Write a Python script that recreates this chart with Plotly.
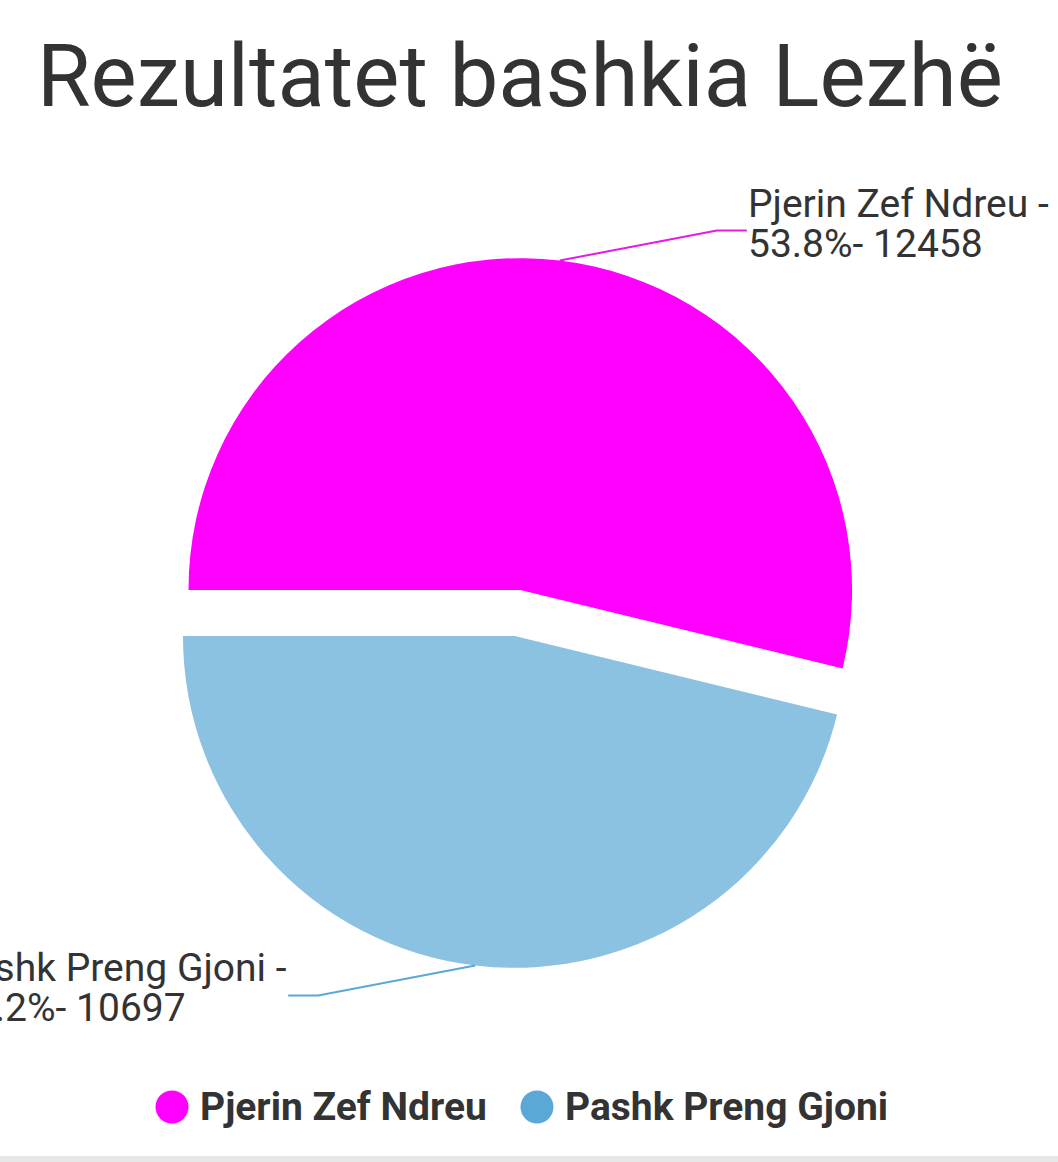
import math
import plotly.graph_objects as go

# ---- data ----
candidates = ["Pjerin Zef Ndreu", "Pashk Preng Gjoni"]
votes = [12458, 10697]
percents = [53.8, 46.2]
slice_colors = ["#FF00FF", "#8BC2E1"]
legend_colors = ["#FF00FF", "#5BA8D6"]
connector_colors = ["#E619E6", "#5BA8D6"]
title_text = "Rezultatet bashkia Lezhë"

# ---- layout constants ----
W, H = 1058, 1162
CX, CY = 517.5, 613.0      # pie domain centre (px, from top-left)
HALF = 355.0               # half side of the pie domain (px)
PULL = 0.07
ROTATION = 270
CONN_DX, CONN_DY, TAIL = 157, 30, 30
FONT = "Roboto"
TXT = "#333333"
LABEL_SIZE = 39
LINE_GAP = 40
LEFT_BLOCK_W = 340         # width of the first label line for left-side labels

def px(x):
    return x / W

def py(y):
    return 1 - y / H

fig = go.Figure()
fig.add_trace(go.Pie(
    labels=candidates, values=votes, sort=False, direction="clockwise",
    rotation=ROTATION, pull=[PULL] * len(votes),
    marker=dict(colors=slice_colors, line=dict(width=0)),
    textinfo="none", hoverinfo="label+value+percent", showlegend=False,
    domain=dict(x=[px(CX - HALF), px(CX + HALF)], y=[py(CY + HALF), py(CY - HALF)]),
))

r = HALF / (1 + PULL)
off = PULL * r
total = sum(votes)
cum = 0.0
shapes = []
annotations = []
for name, v, pct, col in zip(candidates, votes, percents, connector_colors):
    frac = v / total
    theta = math.radians(180 - 360 * (cum + frac / 2))
    cum += frac
    c, s = math.cos(theta), math.sin(theta)
    sx, sy = CX + off * c, CY - off * s
    ex, ey = sx + r * c, sy - r * s
    sgx = 1 if c >= 0 else -1
    sgy = 1 if s >= 0 else -1
    bx, by = ex + sgx * CONN_DX, ey - sgy * CONN_DY
    tx, ty = bx + sgx * TAIL, by
    shapes.append(dict(type="path", xref="paper", yref="paper",
                       path=f"M {px(ex)},{py(ey)} L {px(bx)},{py(by)} L {px(tx)},{py(ty)}",
                       line=dict(color=col, width=2)))
    mid = ty - 7
    lines = [f"{name} -", f"{pct}%- {v}"]
    if sgx > 0:
        lx = tx - 1
        xs = [(lx, "left"), (lx, "left")]
    else:
        rx = tx + 1
        xs = [(rx, "right"), (rx - LEFT_BLOCK_W, "left")]
    for i, (line, (x, anc)) in enumerate(zip(lines, xs)):
        annotations.append(dict(
            text=line, xref="paper", yref="paper", x=px(x),
            y=py(mid + (i - 0.5) * LINE_GAP), xanchor=anc, yanchor="middle",
            showarrow=False, font=dict(family=FONT, size=LABEL_SIZE, color=TXT)))

# title
annotations.append(dict(text=title_text, xref="paper", yref="paper", x=px(520), y=py(76),
                        xanchor="center", yanchor="middle", showarrow=False,
                        font=dict(family=FONT, size=87, color=TXT)))

# custom legend (circle markers + bold names)
LEGEND_X = [172, 537]
LEGEND_Y = 1107
MR = 16.5
for name, col, lx in zip(candidates, legend_colors, LEGEND_X):
    shapes.append(dict(type="circle", xref="paper", yref="paper",
                       x0=px(lx - MR), x1=px(lx + MR), y0=py(LEGEND_Y + MR), y1=py(LEGEND_Y - MR),
                       fillcolor=col, line=dict(width=0)))
    annotations.append(dict(text=f"<b>{name}</b>", xref="paper", yref="paper",
                            x=px(lx + 26), y=py(LEGEND_Y), xanchor="left", yanchor="middle",
                            showarrow=False, font=dict(family=FONT, size=39, color=TXT)))

# bottom grey strip
shapes.append(dict(type="rect", xref="paper", yref="paper", x0=0, x1=1,
                   y0=0, y1=py(1156), fillcolor="#E6E6E6", line=dict(width=0), layer="above"))

fig.update_layout(width=W, height=H, margin=dict(l=0, r=0, t=0, b=0),
                  paper_bgcolor="white", plot_bgcolor="white",
                  shapes=shapes, annotations=annotations, showlegend=False)
fig.write_html("out.html", config={"displayModeBar": False},
               post_script="document.body.style.margin='0';")
